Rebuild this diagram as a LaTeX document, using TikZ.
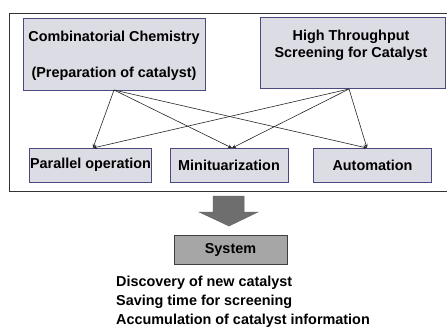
\documentclass[tikz,border=0pt]{standalone}
\usepackage{fontspec}
\setmainfont{Liberation Sans}
\usetikzlibrary{arrows.meta}
\definecolor{boxfill}{HTML}{DCDCE4}
\definecolor{boxline}{HTML}{4A4A80}
\definecolor{bigarrow}{HTML}{6E6E6E}
\definecolor{sysfill}{HTML}{A6A6A6}
\tikzset{
  every node/.style={font=\bfseries\fontsize{14.4}{17}\selectfont, text=black},
  topbox/.style={draw=boxline, fill=boxfill, line width=0.8pt},
  feature/.style={draw=boxline, fill=boxfill, line width=0.8pt, minimum width=118pt, minimum height=34pt, inner sep=0pt},
  link/.style={draw=black!85, line width=0.6pt, -{Stealth[length=4pt,width=3.5pt]}},
}
\begin{document}
\begin{tikzpicture}[x=1pt,y=-1pt]
\useasboundingbox (0,0) rectangle (447,327);
\fill[white] (0,0) rectangle (447,327);
% outer frame (open to the right)
\draw[black!80, line width=0.8pt] (460,13) -- (9,13) -- (9,191) -- (460,191);
% upper boxes
\draw[topbox] (23,18) rectangle (205,90);
\node (cc1) at (114,38) {Combinatorial Chemistry};
\node (cc2) at (114,74) {(Preparation of catalyst)};
\coordinate (ccbot) at (114,90);
\draw[topbox] (260,17) rectangle (445,88);
\node[align=center] (hts) at (351,45) {High Throughput\\Screening for Catalyst};
\coordinate (htsbot) at (349,89);
% feature boxes
\node[feature] (par) at (90,165) {\hspace*{1pt}Parallel operation};
\node[feature] (mini) at (229,165) {Minituarization};
\node[feature] (auto) at (372.5,165) {Automation};
\coordinate (parin) at (93,148);
\coordinate (miniin) at (232,148);
\coordinate (autoin) at (367,148);
% connectors
\foreach \t in {parin,miniin,autoin}{
  \draw[link] (ccbot) -- (\t);
  \draw[link] (htsbot) -- (\t);
}
% block arrow
\draw[fill=bigarrow, draw=black!60, line width=0.5pt]
  (213,196) -- (244,196) -- (244,212) -- (258,212) -- (229,226) -- (199,212) -- (213,212) -- cycle;
% system box
\node[draw=black!75, fill=sysfill, line width=0.8pt, minimum width=113pt, minimum height=29pt, inner sep=0pt] (sys) at (230.5,249.5) {System};
% outcomes
\node[anchor=west, align=left, inner sep=0pt, font=\bfseries\fontsize{14.4}{19}\selectfont] (out) at (116,302)
  {Discovery of new catalyst\\Saving time for screening\\Accumulation of catalyst information};
\end{tikzpicture}
\end{document}
